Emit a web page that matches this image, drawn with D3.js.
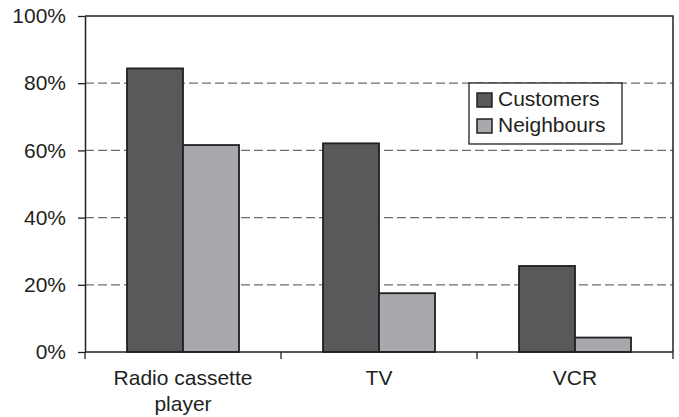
<!DOCTYPE html>
<html>
<head>
<meta charset="utf-8">
<script src="https://cdn.jsdelivr.net/npm/d3@7/dist/d3.min.js"></script>
<style>
  html, body { margin: 0; padding: 0; background: #fff; }
  svg { display: block; font-family: "Liberation Sans", Arial, Helvetica, sans-serif; }
</style>
</head>
<body>
<svg id="chart" width="679" height="417"></svg>
<script>
// Ownership of household appliances (share of households)
const categories = ["Radio cassette player", "TV", "VCR"];
const categoryLines = [["Radio cassette", "player"], ["TV"], ["VCR"]];
const seriesNames = ["Customers", "Neighbours"];
const customers = [84.4, 62.1, 25.6];
const neighbours = [61.6, 17.5, 4.3];
const yTicks = [0, 20, 40, 60, 80, 100];

const colors = { Customers: "#58595b", Neighbours: "#a7a9ac" };
const ink = "#231f20";
const fontSize = "21px";

const svg = d3.select("#chart");
const plot = { left: 85, right: 673, top: 16, bottom: 352 };

const x = d3.scaleBand()
  .domain(categories)
  .range([plot.left, plot.right])
  .paddingInner(0)
  .paddingOuter(0);

// bars within each category: 150% gap width => bars take 2/(2+1.5) of band
const barW = x.bandwidth() / 3.5;
const xs = d3.scaleBand().domain(seriesNames).range([0, barW * 2]);

const y = d3.scaleLinear().domain([0, 100]).range([plot.bottom, plot.top]);

// dashed gridlines
svg.append("g")
  .selectAll("line")
  .data(yTicks.filter(t => t > 0 && t < 100))
  .join("line")
  .attr("x1", plot.left).attr("x2", plot.right)
  .attr("y1", d => y(d)).attr("y2", d => y(d))
  .attr("stroke", "#6d6e71")
  .attr("stroke-width", 1.3)
  .attr("stroke-dasharray", "9,4");

// plot frame top and right
svg.append("path")
  .attr("d", `M${plot.left},${y(100)}H${plot.right}V${plot.bottom}`)
  .attr("fill", "none")
  .attr("stroke", ink)
  .attr("stroke-width", 1.5);

// bars
const rows = categories.map((c, i) => ({ c, values: [
  { s: "Customers", v: customers[i] },
  { s: "Neighbours", v: neighbours[i] }
]}));

const groups = svg.append("g")
  .selectAll("g")
  .data(rows)
  .join("g")
  .attr("transform", d => `translate(${x(d.c) + (x.bandwidth() - barW * 2) / 2},0)`);

groups.selectAll("rect")
  .data(d => d.values)
  .join("rect")
  .attr("x", d => xs(d.s))
  .attr("width", xs.bandwidth())
  .attr("y", d => y(d.v))
  .attr("height", d => y(0) - y(d.v))
  .attr("fill", d => colors[d.s])
  .attr("stroke", ink)
  .attr("stroke-width", 1.8);

// y axis
const yAxis = d3.axisLeft(y)
  .tickValues(yTicks)
  .tickFormat(d => d + "%")
  .tickSize(7)
  .tickSizeOuter(0)
  .tickPadding(12);
const gy = svg.append("g").attr("transform", `translate(${plot.left},0)`).call(yAxis);
gy.select(".domain").attr("stroke", ink).attr("stroke-width", 1.5);
gy.selectAll(".tick line").attr("stroke", ink).attr("stroke-width", 1.3);
gy.selectAll(".tick text")
  .attr("fill", ink)
  .style("font-size", fontSize)
  .style("font-family", "'Liberation Sans', Arial, sans-serif");

// x axis: ticks at category boundaries
const boundaries = categories.map(c => x(c)).concat([plot.right]);
svg.append("line")
  .attr("x1", plot.left).attr("x2", plot.right)
  .attr("y1", plot.bottom).attr("y2", plot.bottom)
  .attr("stroke", ink).attr("stroke-width", 1.5);
svg.append("g")
  .selectAll("line")
  .data(boundaries)
  .join("line")
  .attr("x1", d => d).attr("x2", d => d)
  .attr("y1", plot.bottom).attr("y2", plot.bottom + 7)
  .attr("stroke", ink).attr("stroke-width", 1.3);

const labels = svg.append("g")
  .selectAll("text")
  .data(categories)
  .join("text")
  .attr("x", d => x(d) + x.bandwidth() / 2)
  .attr("y", 385)
  .attr("text-anchor", "middle")
  .attr("fill", ink)
  .style("font-size", fontSize);
labels.selectAll("tspan")
  .data((d, i) => categoryLines[i])
  .join("tspan")
  .attr("x", function () { return d3.select(this.parentNode).attr("x"); })
  .attr("dy", (d, i) => i === 0 ? 0 : 26)
  .text(d => d);

// legend
const legend = svg.append("g").attr("transform", "translate(469,83)");
legend.append("rect")
  .attr("width", 153).attr("height", 61)
  .attr("fill", "#fff")
  .attr("stroke", ink).attr("stroke-width", 1.3);
const items = legend.selectAll("g.item")
  .data(seriesNames)
  .join("g")
  .attr("class", "item")
  .attr("transform", (d, i) => `translate(8,${10 + i * 26})`);
items.append("rect")
  .attr("width", 15).attr("height", 14)
  .attr("fill", d => colors[d])
  .attr("stroke", ink).attr("stroke-width", 1.5);
items.append("text")
  .attr("x", 21).attr("y", 13)
  .attr("fill", ink)
  .style("font-size", fontSize)
  .text(d => d);
</script>
</body>
</html>
